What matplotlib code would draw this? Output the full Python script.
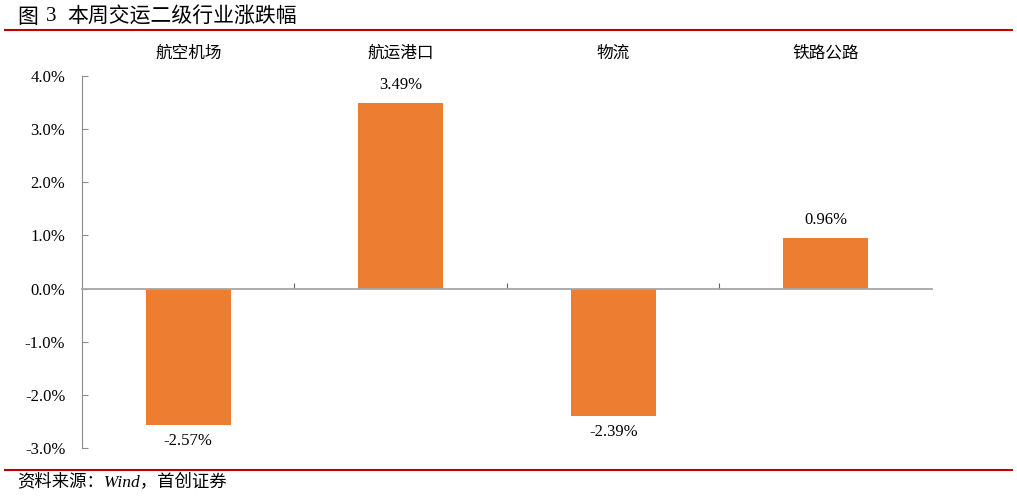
import matplotlib.pyplot as plt
from matplotlib.transforms import blended_transform_factory
from matplotlib.ticker import FuncFormatter
from matplotlib.lines import Line2D

cjk = ['Noto Sans CJK SC', 'DejaVu Sans']
serif = ['Liberation Serif', 'Noto Sans CJK SC']

# data
categories = ['航空机场', '航运港口', '物流', '铁路公路']
changes = [-2.57, 3.49, -2.39, 0.96]
y_ticks = [-3, -2, -1, 0, 1, 2, 3, 4]

fig_no = '图'
fig_num = '3'
title = '本周交运二级行业涨跌幅'
source = '资料来源：Wind，首创证券'

fig = plt.figure(figsize=(10.17, 4.97), dpi=100)
ax = fig.add_axes([0.0806, 0.0986, 0.8358, 0.7484])

x = list(range(len(categories)))
ax.bar(x, changes, width=0.4, color='#ED7D31')

ax.set_xlim(-0.5, len(categories) - 0.5)
ax.set_ylim(-3, 4)
ax.set_yticks(y_ticks)
ax.yaxis.set_major_formatter(FuncFormatter(lambda v, p: f'{v:.1f}%'))
for lab in ax.get_yticklabels():
    lab.set_fontfamily(serif)
    lab.set_fontsize(12)

grey = '#8C8C8C'
ax.spines['top'].set_visible(False)
ax.spines['right'].set_visible(False)
ax.spines['left'].set_color(grey)
ax.spines['bottom'].set_color('#A6A6A6')
ax.spines['bottom'].set_linewidth(1.3)
ax.spines['bottom'].set_position(('data', 0))
ax.tick_params(axis='y', direction='in', length=4, color=grey, pad=12)
ax.set_xticks([i + 0.5 for i in x[:-1]])
ax.tick_params(axis='x', direction='in', length=4, color='#606060', labelbottom=False)

# category labels at the top
trans = blended_transform_factory(ax.transData, ax.transAxes)
for i, name in zip(x, categories):
    ax.text(i, 1.062, name, transform=trans, ha='center', va='center',
            fontsize=12, family=cjk)

# value labels
for i, v in zip(x, changes):
    off = 13 if v >= 0 else -11.5
    ax.annotate(f'{v:.2f}%', (i, v), xytext=(0, off), textcoords='offset points',
                ha='center', va='center', fontsize=12, family=serif)

# title, rules and source
fig.text(0.0167, 0.966, fig_no, ha='left', va='center', fontsize=15, family=cjk)
fig.text(0.045, 0.966, fig_num, ha='left', va='center', fontsize=15, family=serif)
fig.text(0.0665, 0.966, title, ha='left', va='center', fontsize=15, family=cjk)
red = '#C00000'
fig.add_artist(Line2D([0.005, 0.995], [0.940, 0.940], color=red, lw=1.5, transform=fig.transFigure))
fig.add_artist(Line2D([0.005, 0.995], [0.054, 0.054], color=red, lw=1.5, transform=fig.transFigure))
fig.text(0.017, 0.028, source, ha='left', va='center', fontsize=12.5,
         family=serif, style='italic')

fig.savefig('out.png', dpi=100)
